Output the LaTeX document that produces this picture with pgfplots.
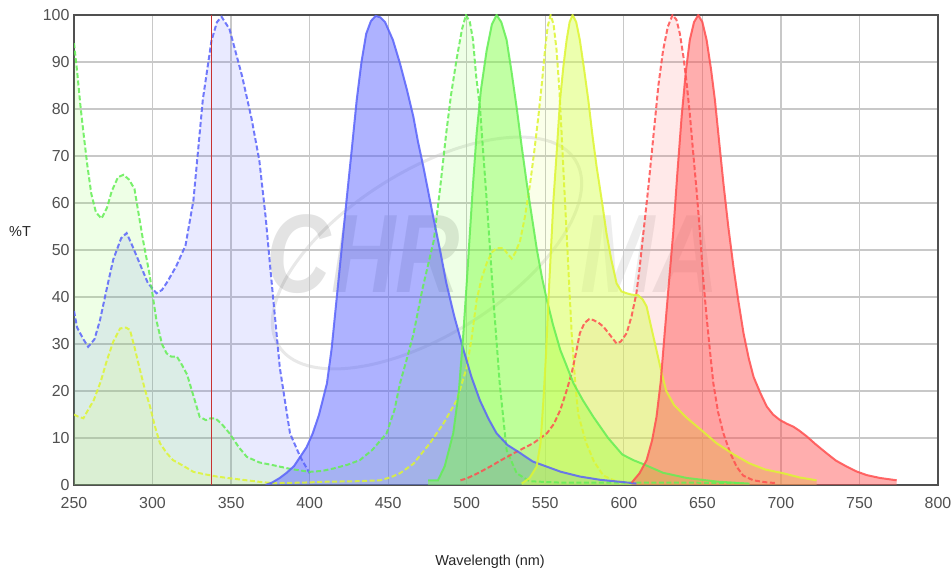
\documentclass[border=0pt]{standalone}
\usepackage{pgfplots}
\pgfplotsset{compat=1.18}
\usepackage{pgfplotstable}
\usepackage{fontspec}
\setmainfont{Liberation Sans}
\definecolor{blueL}{RGB}{90,100,250}
\definecolor{blueF}{RGB}{85,95,255}
\definecolor{greenL}{RGB}{100,238,85}
\definecolor{greenF}{RGB}{125,255,65}
\definecolor{yellowL}{RGB}{222,245,50}
\definecolor{yellowF}{RGB}{215,255,85}
\definecolor{redL}{RGB}{255,80,80}
\definecolor{redF}{RGB}{255,85,85}
\definecolor{markc}{RGB}{200,50,50}
\definecolor{gridc}{RGB}{200,200,200}
\definecolor{framec}{RGB}{80,80,80}
\definecolor{tickc}{RGB}{80,80,80}

\pgfplotstableread{
x y
250 37
252 33.5
256 31
259 29.4
263 31
266.5 35
271 42
275 48
280 52.5
283.5 53.6
287 51
292 47
297 43
302.5 40.8
306 41.5
309 43
315 46.5
321 51
326 60.5
332 82
337.5 94.5
341 98.5
344 99.6
349 97
353 92
357 87
363 78
368 69
372 57
375 46
381 25
387.5 11
394 6
400 2.5
}\bx

\pgfplotstableread{
x y
372 0
376 0.5
381 1.5
385 2.5
390 4
394 6
398 8
402 11
406 15
411 21.6
414 29
417 39
420 49
423.5 60.6
427 72
430 82
433 90
436 96
439 98.7
442 99.8
445 99.5
448 98.5
453 94.7
457.5 89.7
462 84
466 78.4
469 73
472.4 67.7
478.7 57
483 50
487 43
492 36
498 28.7
503 23
508.4 18
514 14
519 11
526 8.5
534 6.8
542 5
551 3.9
560 2.8
572 1.8
585 1.1
600 0.6
608 0.3
}\be

\pgfplotstableread{
x y
250 94
252 88
254 81
256 75
258.5 68
261 62
264 58
267.5 56.7
271 59
274 62.5
278 65.5
281.5 66
285 65
288.5 63
291 58
294 52
298 45
302.5 35
306 30
309 28
312 27.3
315.5 27.3
318 26
322 23.5
326 19
330 14.5
334 13.8
337 14.2
340 14.2
344 13
349 11
355 8
360 6
368 4.8
377 4.2
388 3.4
400 2.8
408 3
415 3.5
424 4.3
432 5.3
440 7.5
449 11
454 16
457.5 21.6
462 27
466 32
472 42
479 52
483 63
487 75
490 83
493.5 90.5
497 97
499.5 100
502 98.5
504 94.7
506 87
508.5 80
512.7 60.6
517 39.4
521 21.6
525.4 7.4
531.8 2.5
540 0.8
560 0.5
600 0.5
640 0.5
675 0.4
}\gx

\pgfplotstableread{
x y
475.5 1
481.7 1
486 4
491.4 11
495 20
497.8 32
500 43
502 53.6
504 64
506.3 74.8
509 84
512.7 92.5
516 98
519 100
522 98.5
525.4 94.7
528.5 88
532 79.8
535 72
538.3 64
541.5 57
544.7 50
548 44
551 39.4
555 34
559.6 28.7
564 25
568 21.6
574 18
580.6 14.5
590 10
599 6.5
606 5.3
612 4.5
625 2.6
640 1.5
660 0.7
680 0.3
}\ge

\pgfplotstableread{
x y
250 15
253 14.5
256 14.2
259 16
262.5 18
267 22
271 26.6
275 30.5
279.3 33.3
283 33.5
285.6 33
288 30
292 24.5
295 20.5
298.4 16.7
301.5 12.5
304.7 8.9
309 6.8
313 5.3
320 4
326 2.8
333 2.3
341 1.8
350 1.4
360 1
370 0.6
377 0.4
395 0.5
411 0.7
430 0.8
445 1
452 1.7
457.5 2.5
466 4.5
476.6 8.9
485 13
493.6 18
500 25
503 31
506.3 39.4
509.5 44
512.7 47.2
516 49.5
519 50.4
523.3 50.4
526 49.2
528.6 48.2
531 49.5
534 52
537 57
540.3 64
543 71
545.6 78.4
548 86
549.8 92.5
551.5 97.5
553.4 100
555.3 98
557.2 92.5
559 84
560.4 74.8
562 64
563.6 53.5
565.3 42
566.8 32.3
569 22
571 15
576 9
581 5
587 2
595 0.8
605 0.3
}\yx

\pgfplotstableread{
x y
535 0.3
540 1.5
544.5 3.9
547 9
548.8 18
550.5 28
552 39.4
553.6 50
555.2 60.6
557.3 71
559.4 81.9
561.5 89
563.6 94.7
565.5 98.5
567.4 100
569.7 98.5
572 94.7
574.7 88.5
577.4 81.9
580 74.5
582.7 67.7
586 60.5
589 53.5
592 48
595.4 42.9
598.5 41.2
601.8 40.8
605 40.5
609 40.4
612 39.5
614.5 38
617.5 33.5
620.8 28.7
624 24
627 20
632 17
640 14.3
650 11.5
659 8.9
670 6.5
680 4.6
690 3.3
701.5 2.5
712 1.6
722.7 1
}\ye

\pgfplotstableread{
x y
496 1
500 1.4
507 2.5
514.8 3.9
522 5.3
529.6 6.7
536 7.8
542.4 8.9
547 10
551 11
555.5 13
559.6 16
563.5 20
566.8 23.8
569.5 28
572 32.3
575 34.5
578 35.3
580.6 35.1
584 34.5
587 33.7
591 32
595.4 30.1
598 30.5
601.8 32.3
605 36
608 40.8
610 46
612.4 53.5
615.5 63
619 74.8
622 85
625 92.5
628 97.5
631 100
633.5 99
635.7 96
638 91
640 85.5
642 79
644 71.3
646.5 62
648.5 53.5
650.5 44
652.7 35.8
655 28
657 21.6
660 15.5
663.4 11
667.5 7
671.8 3.9
676 2
682.4 1
690 0.6
697 0.4
}\rx

\pgfplotstableread{
x y
605 0.5
610 2.5
614.5 5.3
618 9.5
620.8 14.5
623.5 22
626 32.3
628.7 43
631.4 53.5
634 66
636.8 78.4
639.5 88
642 94.7
644.7 98.5
647.4 100
650 98.5
652.7 94.7
655.5 88.5
658 81.9
660.7 73
663.4 64.2
666.5 55
669.8 46.4
673 39
676.2 32.3
679.5 27
682.6 23
687 19.5
691 16.7
695 15
699.5 13.8
704 13
708 12.4
712 11.5
716.6 10.3
722 8.7
729.3 6.7
735 5.2
742 3.9
748 2.9
754.7 2.1
763 1.5
773.7 1
}\re

\pgfplotstableread{
x y
337.5 0
337.5 100
}\mk

\begin{document}
\begin{tikzpicture}
\useasboundingbox (-74bp,-84bp) rectangle (877bp,485bp);
% watermark (behind the plots)
\node[anchor=west, text=black, text opacity=0.11, xscale=0.8,
      font=\fontsize{112}{112}\selectfont\bfseries\itshape] at (190bp,231bp) {CHR};
\node[anchor=east, text=black, text opacity=0.07, xscale=0.8,
      font=\fontsize{112}{112}\selectfont\bfseries\itshape] at (648bp,231bp) {MA};
\draw[black, opacity=0.09, line width=3bp, rotate around={32:(353bp,232bp)}]
      (353bp,232bp) ellipse (175bp and 82bp);
\begin{axis}[
  at={(0,0)}, anchor=south west,
  scale only axis, width=864bp, height=470bp,
  xmin=250, xmax=800, ymin=0, ymax=100,
  xtick={250,300,...,800}, ytick={0,10,...,100},
  grid=major,
  major grid style={draw=gridc, line width=1.2bp},
  axis line style={draw=framec, line width=2.4bp},
  major tick length=0pt,
  tick label style={text=tickc, font=\fontsize{16}{16}\selectfont},
  xticklabel style={yshift=-9bp},
  yticklabel style={xshift=-1bp},
  /pgf/number format/assume math mode=true,
  clip=true,
]
% excitation fills
\addplot[draw=none, fill=blueF, fill opacity=0.13] table[x=x,y=y]{\bx} \closedcycle;
\addplot[draw=none, fill=greenF, fill opacity=0.13] table[x=x,y=y]{\gx} \closedcycle;
\addplot[draw=none, fill=yellowF, fill opacity=0.13] table[x=x,y=y]{\yx} \closedcycle;
\addplot[draw=none, fill=redF, fill opacity=0.13] table[x=x,y=y]{\rx} \closedcycle;
% emission fills
\addplot[draw=none, fill=blueF, fill opacity=0.48] table[x=x,y=y]{\be} \closedcycle;
\addplot[draw=none, fill=greenF, fill opacity=0.48] table[x=x,y=y]{\ge} \closedcycle;
\addplot[draw=none, fill=yellowF, fill opacity=0.48] table[x=x,y=y]{\ye} \closedcycle;
\addplot[draw=none, fill=redF, fill opacity=0.48] table[x=x,y=y]{\re} \closedcycle;
% lines
\addplot[blueL, draw opacity=0.85, line width=2bp, dash pattern=on 5bp off 2.5bp] table[x=x,y=y]{\bx};
\addplot[greenL, draw opacity=0.85, line width=2bp, dash pattern=on 5bp off 2.5bp] table[x=x,y=y]{\gx};
\addplot[yellowL, draw opacity=0.85, line width=2bp, dash pattern=on 5bp off 2.5bp] table[x=x,y=y]{\yx};
\addplot[redL, draw opacity=0.85, line width=2bp, dash pattern=on 5bp off 2.5bp] table[x=x,y=y]{\rx};
\addplot[blueL, draw opacity=0.85, line width=2bp] table[x=x,y=y]{\be};
\addplot[greenL, draw opacity=0.85, line width=2bp] table[x=x,y=y]{\ge};
\addplot[yellowL, draw opacity=0.85, line width=2bp] table[x=x,y=y]{\ye};
\addplot[redL, draw opacity=0.85, line width=2bp] table[x=x,y=y]{\re};
% vertical marker
\addplot[color=markc, line width=1.4bp] table[x=x,y=y]{\mk};
\end{axis}
\node[text=black!85, font=\fontsize{14.5}{14.5}\selectfont] at (416bp,-77bp) {Wavelength (nm)};
\node[text=black!85, font=\fontsize{14.5}{14.5}\selectfont] at (-54bp,253bp) {\%T};
\end{tikzpicture}
\end{document}
